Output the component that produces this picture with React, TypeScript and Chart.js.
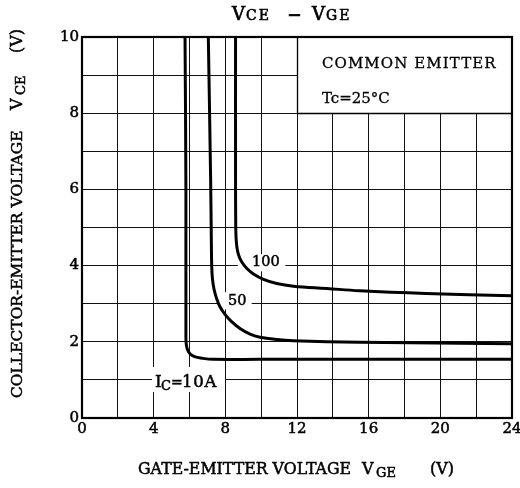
import { useEffect, useRef } from "react";
import { Chart, registerables } from "chart.js";
Chart.register(...registerables);

// Axis ranges / ticks
const xMin = 0, xMax = 24, xStep = 2, xLabelEvery = 4;
const yMin = 0, yMax = 10, yStep = 1, yLabelEvery = 2;

// IC = 10 A
const ic10X = [5.75, 5.8, 5.8, 5.83, 5.9, 6.04, 6.28, 6.68, 7.33, 9.93, 24];
const ic10Y = [10, 6, 2.1, 1.9, 1.78, 1.68, 1.61, 1.57, 1.54, 1.54, 1.54];
// IC = 50 A
const ic50X = [7.05, 7.18, 7.22, 7.24, 7.28, 7.37, 7.51, 7.7, 7.98, 8.35, 8.82, 9.38, 9.93, 10.87, 11.8, 15.5, 24];
const ic50Y = [10, 6.25, 4.6, 4.0, 3.66, 3.38, 3.14, 2.92, 2.72, 2.53, 2.35, 2.2, 2.12, 2.06, 2.03, 1.99, 1.95];
// IC = 100 A
const ic100X = [8.57, 8.57, 8.58, 8.6, 8.65, 8.74, 8.91, 9.19, 9.57, 10.13, 10.87, 11.8, 13.66, 15.5, 19.2, 24];
const ic100Y = [10, 6.25, 5.1, 4.72, 4.47, 4.28, 4.1, 3.93, 3.78, 3.64, 3.53, 3.46, 3.4, 3.34, 3.27, 3.21];

const FONT = '"DejaVu Serif"';

function toPts(xs: number[], ys: number[]) {
  return xs.map((x, i) => ({ x, y: ys[i] }));
}

function txt(ctx: CanvasRenderingContext2D, t: string, x: number, y: number, size: number, ls = 0, sw = 0.5) {
  ctx.font = `${size}px ${FONT}`;
  (ctx as any).letterSpacing = `${ls}px`;
  ctx.fillText(t, x, y);
  if (sw > 0) {
    ctx.lineWidth = sw;
    ctx.strokeStyle = "#000";
    ctx.strokeText(t, x, y);
  }
  (ctx as any).letterSpacing = "0px";
}

const decor = {
  id: "decor",
  beforeDatasetsDraw(chart: any) {
    const { ctx, scales } = chart;
    const X = (v: number) => scales.x.getPixelForValue(v);
    const Y = (v: number) => scales.y.getPixelForValue(v);
    ctx.save();
    ctx.fillStyle = "#fff";
    const rect = (x0: number, x1: number, y0: number, y1: number) =>
      ctx.fillRect(X(x0), Y(y1), X(x1) - X(x0), Y(y0) - Y(y1));
    // legend box
    rect(12, 24, 8, 10);
    // label backgrounds
    rect(8.7, 11.35, 3.85, 4.3);
    rect(7.6, 9.47, 2.85, 3.3);
    rect(3.91, 7.98, 0.68, 1.34);
    // legend box edges
    ctx.strokeStyle = "#000";
    ctx.lineWidth = 1.3;
    ctx.beginPath();
    ctx.moveTo(Math.round(X(12)) + 0.5, Y(10));
    ctx.lineTo(Math.round(X(12)) + 0.5, Math.round(Y(8)) + 0.5);
    ctx.lineTo(X(24), Math.round(Y(8)) + 0.5);
    ctx.stroke();
    ctx.restore();
  },
  afterDatasetsDraw(chart: any) {
    const { ctx, scales, chartArea: a } = chart;
    const X = (v: number) => scales.x.getPixelForValue(v);
    const Y = (v: number) => scales.y.getPixelForValue(v);
    ctx.save();
    ctx.fillStyle = "#000";
    ctx.textAlign = "left";
    ctx.textBaseline = "alphabetic";
    // curve labels
    txt(ctx, "100", X(9.49), Y(3.99), 14.5);
    txt(ctx, "50", X(8.15), Y(2.97), 14.5);
    const lx = X(4.07), ly = Y(0.81);
    txt(ctx, "I", lx, ly, 17);
    txt(ctx, "C", lx + 6, ly + 3, 13);
    txt(ctx, "=", lx + 16, ly, 14);
    txt(ctx, "10A", lx + 27, ly, 16.5, 0.8);
    // legend text
    txt(ctx, "COMMON EMITTER", X(13.39), Y(9.19), 15, 1.1, 0.3);
    txt(ctx, "Tc=25°C", X(13.39), Y(8.27), 15, 0, 0.3);
    // border
    ctx.strokeStyle = "#000";
    ctx.lineWidth = 2.2;
    ctx.strokeRect(a.left, a.top, a.right - a.left, a.bottom - a.top);
    // title
    txt(ctx, "V", 232, 20, 18, 0, 0.7);
    txt(ctx, "CE", 246, 20, 14, 2, 0.6);
    txt(ctx, "–", 288, 22, 26, 0, 0.7);
    txt(ctx, "V", 312, 20, 18, 0, 0.7);
    txt(ctx, "GE", 326, 20, 14, 2, 0.6);
    // x title
    txt(ctx, "GATE-EMITTER VOLTAGE", 138, 474, 15.8);
    txt(ctx, "V", 362, 474, 16);
    txt(ctx, "GE", 376, 477, 13);
    txt(ctx, "(V)", 430, 474, 16);
    // y title
    ctx.rotate(-Math.PI / 2);
    txt(ctx, "COLLECTOR-EMITTER VOLTAGE", -398, 22, 15.5);
    txt(ctx, "V", -110, 22, 16);
    txt(ctx, "CE", -95, 25, 13);
    txt(ctx, "(V)", -53, 22, 16);
    ctx.restore();
  },
};

export default function App() {
  const ref = useRef<HTMLCanvasElement>(null);
  useEffect(() => {
    document.body.style.margin = "0";
    const ds = (xs: number[], ys: number[]) => ({
      data: toPts(xs, ys),
      showLine: true,
      borderColor: "#000",
      borderWidth: 3,
      pointRadius: 0,
      tension: 0.4,
      fill: false,
    });
    const tickFont = { family: "DejaVu Serif", size: 15 };
    const chart = new Chart(ref.current!, {
      type: "scatter",
      data: { datasets: [ds(ic10X, ic10Y), ds(ic50X, ic50Y), ds(ic100X, ic100Y)] as any },
      options: {
        responsive: false,
        animation: false,
        layout: { padding: { top: 37, right: 8, left: 0, bottom: 0 } },
        plugins: { legend: { display: false }, tooltip: { enabled: false }, title: { display: false } },
        scales: {
          x: {
            type: "linear",
            min: xMin,
            max: xMax,
            ticks: {
              stepSize: xStep,
              autoSkip: false,
              maxRotation: 0,
              padding: 2,
              color: "#000",
              textStrokeColor: "#000",
              textStrokeWidth: 0.5,
              font: tickFont,
              callback: (v: any) => (Number(v) % xLabelEvery === 0 ? String(v) : ""),
            },
            grid: { color: "#111", lineWidth: 1, drawTicks: false },
            border: { display: false },
            afterFit: (s: any) => {
              s.height = 70;
              s.paddingLeft = 0;
              s.paddingRight = 0;
            },
          },
          y: {
            type: "linear",
            min: yMin,
            max: yMax,
            ticks: {
              stepSize: yStep,
              autoSkip: false,
              padding: 3,
              color: "#000",
              textStrokeColor: "#000",
              textStrokeWidth: 0.5,
              font: tickFont,
              callback: (v: any) => (Number(v) % yLabelEvery === 0 ? String(v) : ""),
            },
            grid: { color: "#111", lineWidth: 1, drawTicks: false },
            border: { display: false },
            afterFit: (s: any) => {
              s.width = 82;
              s.paddingTop = 0;
              s.paddingBottom = 0;
            },
          },
        },
      },
      plugins: [decor],
    });
    return () => chart.destroy();
  }, []);
  return (
    <div style={{ position: "absolute", left: 0, top: 0, width: 520, height: 488, background: "#fff" }}>
      <canvas ref={ref} width={520} height={488} style={{ display: "block" }} />
    </div>
  );
}
